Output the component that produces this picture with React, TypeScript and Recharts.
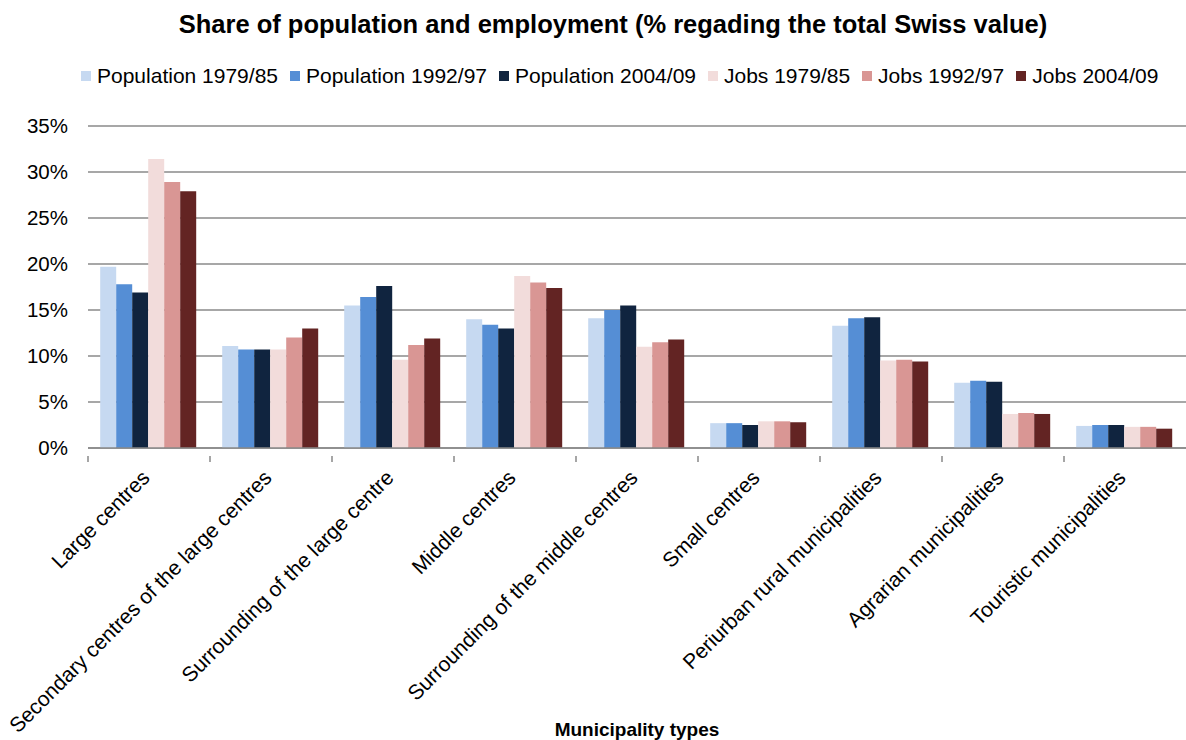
import { BarChart, Bar, XAxis, YAxis, CartesianGrid } from 'recharts';

const FONT = '"Liberation Sans", Arial, sans-serif';

const categories = [
  'Large centres',
  'Secondary centres of the large centres',
  'Surrounding of the large centre',
  'Middle centres',
  'Surrounding of the middle centres',
  'Small centres',
  'Periurban rural municipalities',
  'Agrarian municipalities',
  'Touristic municipalities',
];

const pop7985 = [19.7, 11.1, 15.5, 14.0, 14.1, 2.7, 13.3, 7.1, 2.4];
const pop9297 = [17.8, 10.7, 16.4, 13.4, 15.0, 2.7, 14.1, 7.3, 2.5];
const pop0409 = [16.9, 10.7, 17.6, 13.0, 15.5, 2.5, 14.2, 7.2, 2.5];
const jobs7985 = [31.4, 10.7, 9.6, 18.7, 11.0, 2.9, 9.5, 3.7, 2.3];
const jobs9297 = [28.9, 12.0, 11.2, 18.0, 11.5, 2.9, 9.6, 3.8, 2.3];
const jobs0409 = [27.9, 13.0, 11.9, 17.4, 11.8, 2.8, 9.4, 3.7, 2.1];

const yTicks = [0, 5, 10, 15, 20, 25, 30, 35];

const series = [
  { key: 'p1', name: 'Population 1979/85', values: pop7985, color: '#c6d9f1' },
  { key: 'p2', name: 'Population 1992/97', values: pop9297, color: '#558ed5' },
  { key: 'p3', name: 'Population 2004/09', values: pop0409, color: '#10243f' },
  { key: 'j1', name: 'Jobs 1979/85', values: jobs7985, color: '#f2dcdb' },
  { key: 'j2', name: 'Jobs 1992/97', values: jobs9297, color: '#d99694' },
  { key: 'j3', name: 'Jobs 2004/09', values: jobs0409, color: '#632423' },
];

const data = categories.map((name, i) => {
  const row: Record<string, string | number> = { name };
  series.forEach((s) => (row[s.key] = s.values[i]));
  return row;
});

function CategoryTick(props: any) {
  const { x, y, payload } = props;
  const half = payload.offset ?? 61;
  const tx = x + 2;
  const ty = y + 23;
  return (
    <g>
      <line x1={x - half} y1={y} x2={x - half} y2={y + 6} stroke="#888" strokeWidth={1.5} />
      <text
        x={tx}
        y={ty}
        transform={`rotate(-45, ${tx}, ${ty})`}
        textAnchor="end"
        fontSize={21}
        fontFamily={FONT}
        fill="#000"
      >
        {payload.value}
      </text>
    </g>
  );
}

export default function App() {
  return (
    <div style={{ position: 'fixed', top: 0, left: 0, width: 1186, height: 740, background: '#fff', overflow: 'hidden' }}>
      <div
        style={{
          position: 'absolute',
          top: 10,
          left: 20,
          width: 1186,
          textAlign: 'center',
          fontFamily: FONT,
          fontWeight: 'bold',
          fontSize: 25.5,
          whiteSpace: 'nowrap',
        }}
      >
        Share of population and employment (% regading the total Swiss value)
      </div>
      <div
        style={{
          position: 'absolute',
          top: 64,
          left: 81,
          display: 'flex',
          alignItems: 'center',
          fontFamily: FONT,
          fontSize: 21,
          whiteSpace: 'nowrap',
        }}
      >
        {series.map((s) => (
          <div key={s.key} style={{ display: 'flex', alignItems: 'center', marginRight: 12 }}>
            <span style={{ width: 10, height: 10, background: s.color, marginRight: 6, display: 'inline-block' }} />
            <span>{s.name}</span>
          </div>
        ))}
      </div>
      <div style={{ position: 'absolute', top: 0, left: 0 }}>
        <BarChart
          width={1186}
          height={740}
          data={data}
          margin={{ top: 126, right: 0, bottom: 0, left: 0 }}
          barCategoryGap="10%"
          barGap={0}
        >
          <CartesianGrid vertical={false} stroke="#8a8a8a" strokeWidth={1.5} />
          <XAxis
            dataKey="name"
            height={292}
            interval={0}
            tickLine={false}
            axisLine={{ stroke: '#888', strokeWidth: 1.5 }}
            tick={<CategoryTick />}
            label={{
              value: 'Municipality types',
              position: 'insideBottom',
              offset: 4,
              fontFamily: FONT,
              fontWeight: 'bold',
              fontSize: 19,
              fill: '#000',
            }}
          />
          <YAxis
            width={88}
            domain={[0, 35]}
            ticks={yTicks}
            tickFormatter={(v) => `${v}%`}
            axisLine={false}
            tickLine={false}
            tickSize={0}
            tickMargin={20}
            tick={{ fontFamily: FONT, fontSize: 20.5, fill: '#000' }}
          />
          {series.map((s) => (
            <Bar key={s.key} dataKey={s.key} name={s.name} fill={s.color} isAnimationActive={false} />
          ))}
        </BarChart>
      </div>
    </div>
  );
}
